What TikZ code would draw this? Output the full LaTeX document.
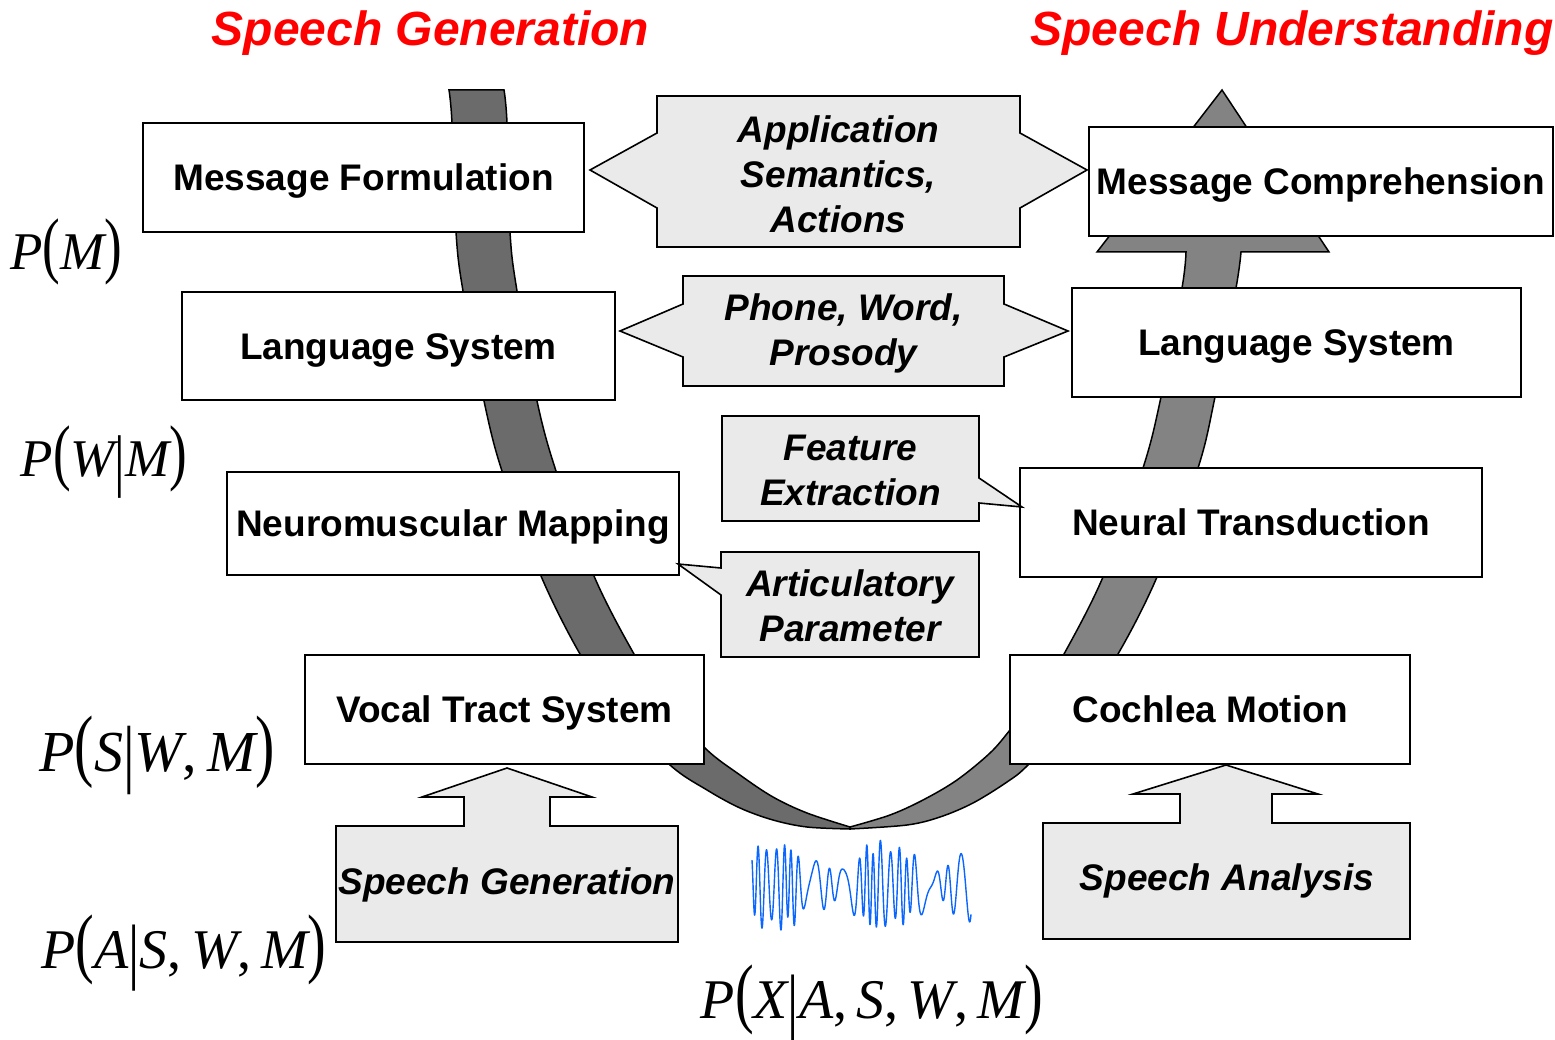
\documentclass[tikz,border=0pt]{standalone}
\usepackage{graphicx}
\usepackage{fontspec}
\setsansfont{Liberation Sans}
\newfontfamily\tms{Liberation Serif}
\definecolor{calgray}{HTML}{EAEAEA}
\definecolor{darkband}{HTML}{6B6B6B}
\definecolor{midband}{HTML}{838383}
\definecolor{wavec}{HTML}{0A66FF}
\newcommand\lpar{{\upshape\scalebox{1}[1.38]{(}}}
\newcommand\rpar{{\upshape\scalebox{1}[1.38]{)}}}
\newcommand\vbar{{\upshape\raisebox{-0.12em}{\scalebox{1}[1.3]{|}}}}
\newcommand\cma{{\upshape,}\,}
\tikzset{
  box/.style={draw=black, line width=1.6pt, fill=white, inner sep=0pt,
    text height=26.5pt, text depth=0pt,
    font=\sffamily\bfseries\fontsize{37}{45}\selectfont},
  callshape/.style={draw=black, line width=1.6pt, fill=calgray, line join=miter},
  ctext/.style={align=center, inner sep=0pt,
    font=\sffamily\bfseries\itshape\fontsize{37}{45}\selectfont},
  oneline/.style={text height=26.5pt, text depth=0pt},
  titletext/.style={text=red, inner sep=0pt, anchor=base,
    font=\sffamily\bfseries\itshape\fontsize{48}{56}\selectfont},
  bandL/.style={fill=darkband, draw=black, line width=1.5pt},
  bandR/.style={fill=midband, draw=black, line width=1.5pt},
  mlab/.style={inner sep=0pt, font=\tms\itshape\fontsize{#1}{#1}\selectfont},
  wave/.style={draw=wavec, line width=1.4pt, line join=round}
}
\begin{document}
\begin{tikzpicture}[x=1pt,y=-1pt]
\useasboundingbox (0,0) rectangle (1555,1040);

% titles
\node[titletext] (tgen) at (430.5,46) {Speech Generation};
\node[titletext] (tund) at (1292,46) {Speech Understanding};

% left (generation) band
\filldraw[bandL] plot[smooth, tension=0.55] coordinates {(449,90) (452,123) (456,232) (463,291) (484,401) (502,471) (541,576) (580,654) (618,710) (670,765) (707,790) (740,808) (773,820) (807,827) (850,829)}
  -- plot[smooth, tension=0.55] coordinates {(850,827) (807,813) (773,797) (740,775) (705,748) (664,700) (634,654) (594,576) (556,471) (537,401) (517,291) (510,232) (507,123) (504,90)}
  -- cycle;

% right (understanding) band with arrow head
\filldraw[bandR] plot[smooth, tension=0.55] coordinates {(850,827) (890,815) (923,800) (957,780) (990,753) (1010,730) (1040,692) (1064,654) (1103,577) (1143,468) (1161,397) (1182,288) (1186,252)}
  -- (1097,252) -- (1222,90) -- (1329,252) --
  plot[smooth, tension=0.55] coordinates {(1241,252) (1236,288) (1215,397) (1198,468) (1157,577) (1118,654) (1080,710) (1028,765) (1007,782) (973,803) (940,817) (907,825) (850,829)}
  -- cycle;

% boxes
\node[box, minimum width=441pt, minimum height=109pt] (mf) at (363.5,177.5) {Message Formulation};
\node[box, minimum width=464pt, minimum height=109pt] (mc) at (1321,181.5) {Message Comprehension};
\node[box, minimum width=433pt, minimum height=108pt] (lsl) at (398.5,346) {Language System};
\node[box, minimum width=449pt, minimum height=109pt] (lsr) at (1296.5,342.5) {Language System};
\node[box, minimum width=452pt, minimum height=103pt] (nm) at (453,523.5) {Neuromuscular Mapping};
\node[box, minimum width=462pt, minimum height=109pt] (nt) at (1251,522.5) {Neural Transduction};
\node[box, minimum width=399pt, minimum height=109pt] (vt) at (504.5,709.5) {Vocal Tract System};
\node[box, minimum width=400pt, minimum height=109pt] (cm) at (1210,709.5) {Cochlea Motion};

% callouts
\filldraw[callshape] (657,96) -- (1020,96) -- (1020,133) -- (1087,170) -- (1020,208) -- (1020,247) -- (657,247) -- (657,208) -- (590,170) -- (657,133) -- cycle;
\node[ctext] (app) at (838.5,174) {Application\\Semantics,\\Actions};

\filldraw[callshape] (683,276) -- (1004,276) -- (1004,304) -- (1068,331) -- (1004,357) -- (1004,386) -- (683,386) -- (683,357) -- (620,331) -- (683,304) -- cycle;
\node[ctext] (pwp) at (843.5,333) {Phone, Word,\\Prosody};

\filldraw[callshape] (722,416) -- (979,416) -- (979,478) -- (1022,507) -- (979,503) -- (979,521) -- (722,521) -- cycle;
\node[ctext] (fe) at (850.5,470) {Feature\\Extraction};

\filldraw[callshape] (721,552) -- (979,552) -- (979,657) -- (721,657) -- (721,595) -- (678,564) -- (721,568) -- cycle;
\node[ctext] (ap) at (850,606) {Articulatory\\Parameter};

% bottom block arrows
\filldraw[callshape] (336,826) -- (464,826) -- (464,797) -- (422,797) -- (507,768) -- (592,797) -- (550,797) -- (550,826) -- (678,826) -- (678,942) -- (336,942) -- cycle;
\node[ctext, oneline] (sg) at (507,881) {Speech Generation};

\filldraw[callshape] (1043,823) -- (1180,823) -- (1180,794) -- (1133,794) -- (1226,765) -- (1318,794) -- (1272,794) -- (1272,823) -- (1410,823) -- (1410,939) -- (1043,939) -- cycle;
\node[ctext, oneline] (sa) at (1227,877) {Speech Analysis};

% waveform
\draw[wave] plot[domain=0:219, samples=900] ({752+\x}, {886 - (30+10*cos(3.303*(\x-22)))*sin(34*\x + 243*sin(3.303*(\x-22)) + 90*sin(9.3*\x)) - 6*sin(23*\x)});

% probability labels
\node[mlab=53] (pM) at (66,252) {P\lpar M\rpar};
\node[mlab=53] (pWM) at (104,462) {P\lpar W\vbar M\rpar};
\node[mlab=58] (pSWM) at (157,755) {P\lpar S\vbar W\cma M\rpar};
\node[mlab=56] (pASWM) at (184,953) {P\lpar A\vbar S\cma W\cma M\rpar};
\node[mlab=56] (pXASWM) at (872,1003) {P\lpar X\vbar A\cma S\cma W\cma M\rpar};
\end{tikzpicture}
\end{document}
